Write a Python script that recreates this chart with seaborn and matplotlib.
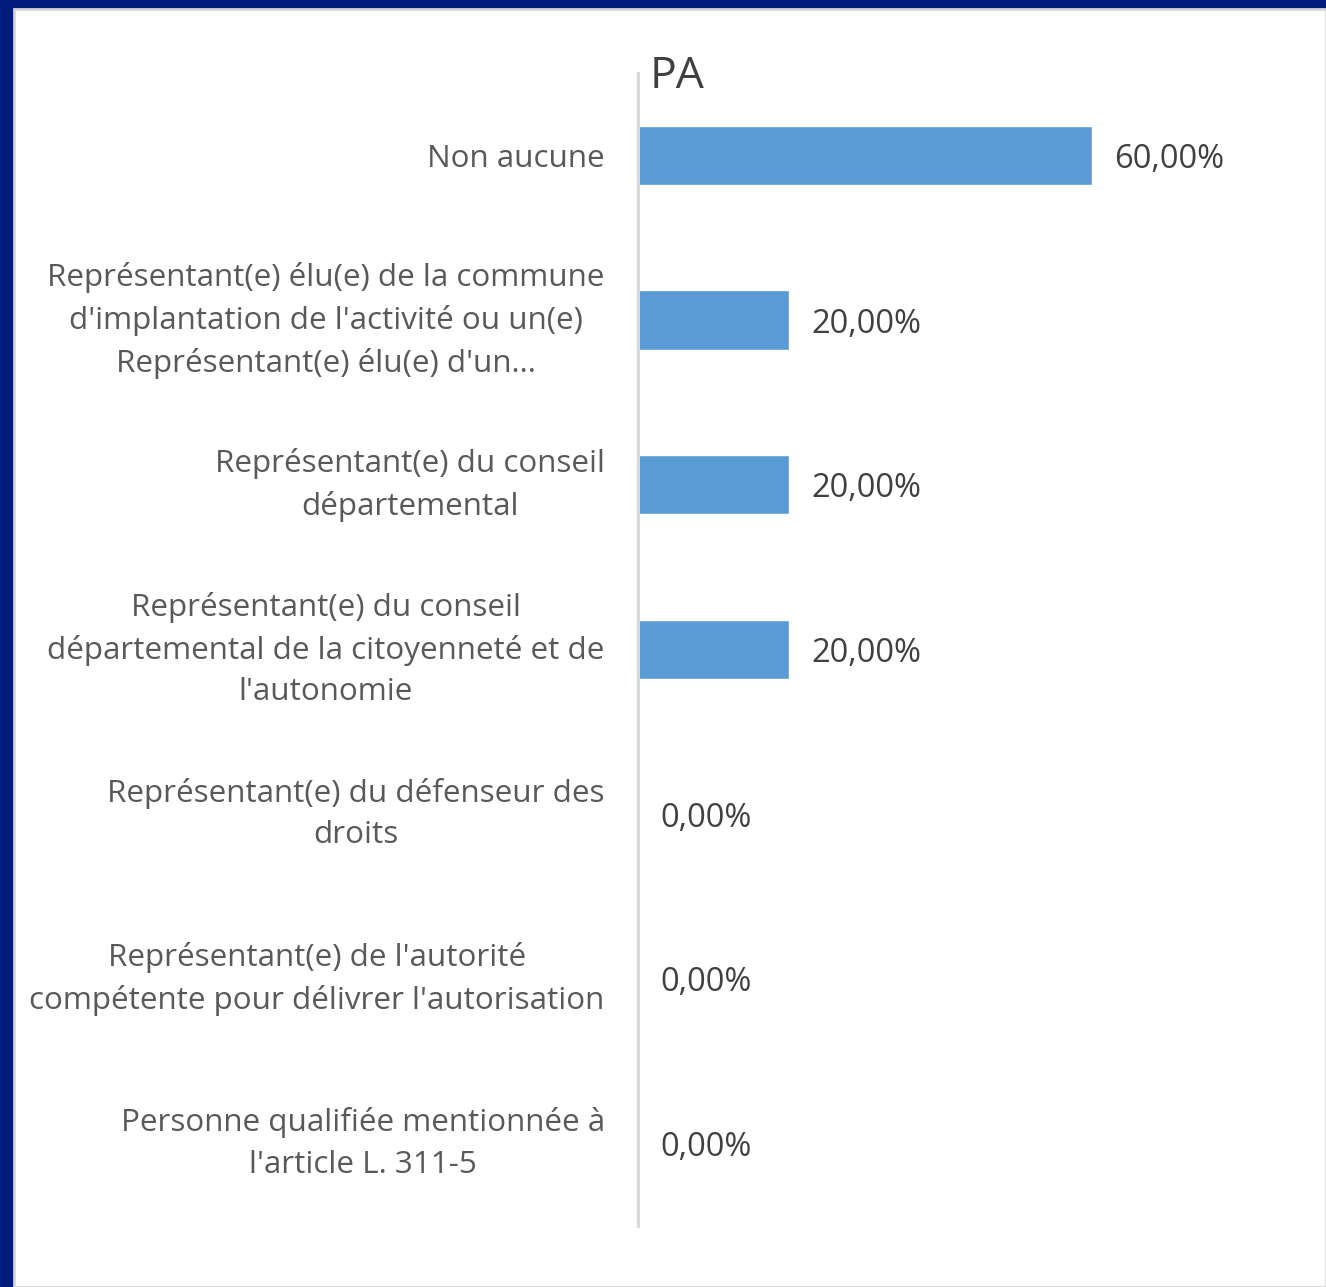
import matplotlib
matplotlib.use("Agg")
import matplotlib.pyplot as plt
from matplotlib.patches import Rectangle
import seaborn as sns
import pandas as pd

categories = [
    "Non aucune",
    "Représentant(e) élu(e) de la commune\nd'implantation de l'activité ou un(e)\nReprésentant(e) élu(e) d'un...",
    "Représentant(e) du conseil\ndépartemental",
    "Représentant(e) du conseil\ndépartemental de la citoyenneté et de\nl'autonomie",
    "Représentant(e) du défenseur des\ndroits",
    "Représentant(e) de l'autorité\ncompétente pour délivrer l'autorisation",
    "Personne qualifiée mentionnée à\nl'article L. 311-5",
]
values = [60.0, 20.0, 20.0, 20.0, 0.0, 0.0, 0.0]
title = "PA"

sns.set_theme(style="white")
plt.rcParams['font.family'] = ['Open Sans', 'DejaVu Sans']

W, H = 1326, 1287
fig = plt.figure(figsize=(W / 100, H / 100), dpi=100, facecolor="#011B7B")
fig.patches.append(Rectangle((14 / W, 0), 1 - 14 / W, 1 - 9 / H, transform=fig.transFigure,
                             facecolor="white", edgecolor="#D6D6D6", linewidth=2, zorder=-10))

ax = fig.add_axes([638 / W, 1 - 1226 / H, (1304 - 638) / W, (1226 - 73) / H])
ax.set_facecolor("none")
ax.set_zorder(5)

df = pd.DataFrame({"cat": categories, "val": values})
sns.barplot(data=df, x="val", y="cat", orient="h", color="#5B9BD5", width=0.36,
            saturation=1, ax=ax)

ax.set_xlim(0, 88)
ax.set_ylim(6.5, -0.5)
ax.set_xlabel("")
ax.set_ylabel("")
ax.set_xticks([])
for s in ["top", "right", "bottom"]:
    ax.spines[s].set_visible(False)
ax.spines["left"].set_color("#D9D9D9")
ax.spines["left"].set_linewidth(2.2)

ax.tick_params(axis="y", length=0, pad=24, labelsize=22.6, labelcolor="#595959")
for lbl in ax.get_yticklabels():
    lbl.set_multialignment("center")
    lbl.set_linespacing(1.5)
    if "\n" in lbl.get_text():
        lbl.set_verticalalignment("center")

labels = [f"{v:.2f}".replace(".", ",") + "%" for v in values]
texts = ax.bar_label(ax.containers[0], labels=labels, padding=16, fontsize=23.5, color="#404040")
for t in texts:
    t.set_verticalalignment("center_baseline")

ax.text(0.018, 0.997, title, transform=ax.transAxes, fontsize=32, color="#404040",
        ha="left", va="center")

fig.savefig("out.png", dpi=100, facecolor=fig.get_facecolor())
